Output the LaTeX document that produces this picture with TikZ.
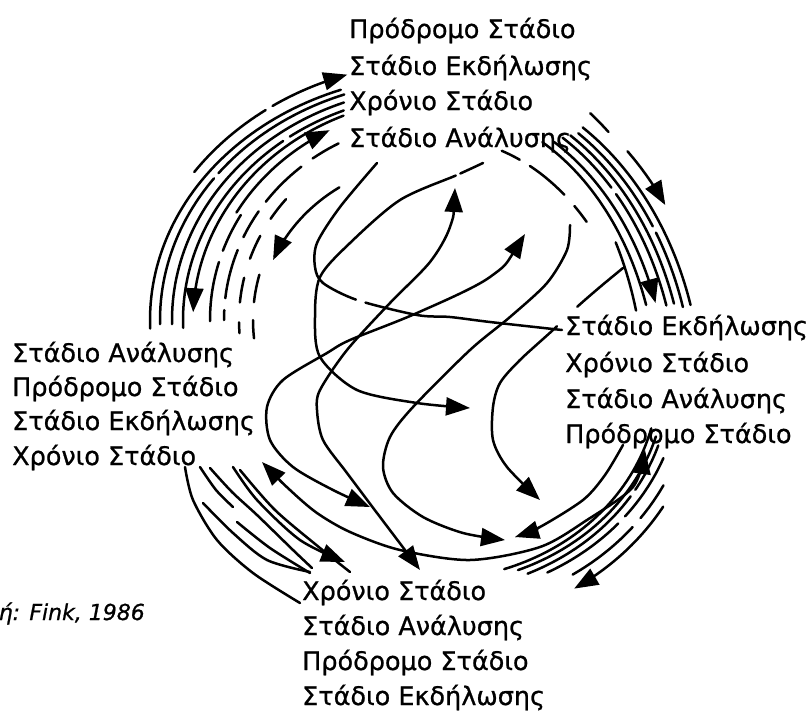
\documentclass[tikz,border=0pt]{standalone}
\usepackage{fontspec}
\setmainfont{DejaVu Sans}[FakeBold=0.8]
\usetikzlibrary{arrows.meta}
\tikzset{
  ln/.style={line width=2.5pt, line cap=round},
  tip/.style={ln,-{Triangle[length=24pt 0,width=18pt 0]}},
  tipb/.style={ln,{Triangle[length=24pt 0,width=18pt 0]}-{Triangle[length=24pt 0,width=18pt 0]}},
  lbl/.style={inner sep=0pt, anchor=base west, font=\fontsize{25.5}{30}\selectfont},
  srclbl/.style={inner sep=0pt, anchor=base east, font=\itshape\fontsize{22}{28}\selectfont}
}
\begin{document}
\begin{tikzpicture}[x=1pt,y=-1pt]
\useasboundingbox (0,0) rectangle (809,710);
\begin{scope}
\clip (0,0) rectangle (809,710);
% ---------- text blocks ----------
\node[lbl] (t1) at (349,38)  {Πρόδρομο Στάδιο};
\node[lbl] (t2) at (349,75)  {Στάδιο Εκδήλωσης};
\node[lbl] (t3) at (349,110) {Χρόνιο Στάδιο};
\node[lbl] (t4) at (349,147) {Στάδιο Ανάλυσης};
\node[lbl] (r1) at (565,335) {Στάδιο Εκδήλωσης};
\node[lbl] (r2) at (565,372) {Χρόνιο Στάδιο};
\node[lbl] (r3) at (565,408) {Στάδιο Ανάλυσης};
\node[lbl] (r4) at (565,443) {Πρόδρομο Στάδιο};
\node[lbl] (l1) at (12,362) {Στάδιο Ανάλυσης};
\node[lbl] (l2) at (12,396) {Πρόδρομο Στάδιο};
\node[lbl] (l3) at (12,430) {Στάδιο Εκδήλωσης};
\node[lbl] (l4) at (12,465) {Χρόνιο Στάδιο};
\node[lbl] (b1) at (302,600) {Χρόνιο Στάδιο};
\node[lbl] (b2) at (302,635) {Στάδιο Ανάλυσης};
\node[lbl] (b3) at (302,670) {Πρόδρομο Στάδιο};
\node[lbl] (b4) at (302,705) {Στάδιο Εκδήλωσης};
\node[srclbl] (src) at (145,620) {Πηγή: Fink, 1986};
% ---------- top-left bundle ----------
\draw[tip,dash pattern=on 95pt off 8pt on 400pt] plot[domain=145:108,samples=40] ({440+300*cos(\x)},{320-258*sin(\x)});
\draw[ln] plot[domain=110:182,samples=50] ({440+290*cos(\x)},{320-245*sin(\x)});
\draw[ln,dash pattern=on 150pt off 7pt on 400pt] plot[domain=110:181,samples=50] ({440+280*cos(\x)},{320-240*sin(\x)});
\draw[ln] plot[domain=111:181,samples=50] ({440+268*cos(\x)},{320-233*sin(\x)});
\draw[ln,dash pattern=on 60pt off 8pt on 300pt] plot[domain=112:182,samples=50] ({440+257*cos(\x)},{320-226*sin(\x)});
\draw[tip] plot[domain=113:178,samples=50] ({440+247*cos(\x)},{320-222*sin(\x)});
\draw[ln,dash pattern=on 40pt off 12pt on 60pt off 12pt] plot[domain=150:182,samples=30] ({440+230*cos(\x)},{320-210*sin(\x)});
\draw[ln,dash pattern=on 30pt off 14pt on 50pt off 12pt] plot[domain=118:180,samples=40] ({440+216*cos(\x)},{320-200*sin(\x)});
\draw[ln,dash pattern=on 25pt off 20pt] plot[domain=140:184,samples=40] ({440+201*cos(\x)},{320-188*sin(\x)});
\draw[ln,dash pattern=on 28pt off 18pt] plot[domain=165:186,samples=20] ({440+187*cos(\x)},{320-175*sin(\x)});
\draw[tip] plot[domain=124:158,samples=30] ({440+180*cos(\x)},{320-160*sin(\x)});
\draw[tip] plot[domain=150:118,samples=30] ({440+235*cos(\x)},{320-215*sin(\x)});
% ---------- top-right bundle ----------
\draw[ln] plot[domain=57:17,samples=40] ({440+262*cos(\x)},{400-325*sin(\x)});
\draw[ln,dash pattern=on 120pt off 7pt on 300pt] plot[domain=57:17,samples=40] ({440+254*cos(\x)},{400-318*sin(\x)});
\draw[ln] plot[domain=58:18,samples=40] ({440+246*cos(\x)},{400-312*sin(\x)});
\draw[ln,dash pattern=on 70pt off 8pt on 300pt] plot[domain=59:18,samples=40] ({440+238*cos(\x)},{400-306*sin(\x)});
\draw[tip] plot[domain=60:19,samples=40] ({440+228*cos(\x)},{400-298*sin(\x)});
\draw[ln] plot[domain=62:19,samples=40] ({440+218*cos(\x)},{400-292*sin(\x)});
\draw[ln] plot[domain=31:17,samples=20] ({440+205*cos(\x)},{400-306*sin(\x)});
\draw[ln,dash pattern=on 20pt off 12pt on 45pt off 15pt] plot[domain=72:40,samples=30] ({440+200*cos(\x)},{400-262*sin(\x)});
\draw[tip] plot[domain=47:35,samples=20] ({440+275*cos(\x)},{400-340*sin(\x)});
\draw[ln] plot[domain=55:50,samples=10] ({440+262*cos(\x)},{400-350*sin(\x)});
% ---------- bottom-right bundle ----------
\draw[ln] plot[domain=16:68,samples=40] ({430+235*cos(\x)},{380+205*sin(\x)});
\draw[ln,dash pattern=on 50pt off 8pt on 300pt] plot[domain=18:66,samples=40] ({430+240*cos(\x)},{380+212*sin(\x)});
\draw[ln] plot[domain=14:71,samples=40] ({430+228*cos(\x)},{380+200*sin(\x)});
\draw[ln,dash pattern=on 70pt off 10pt on 300pt] plot[domain=21:62,samples=40] ({430+250*cos(\x)},{380+218*sin(\x)});
\draw[ln,dash pattern=on 40pt off 12pt on 300pt] plot[domain=27:57,samples=30] ({430+262*cos(\x)},{380+232*sin(\x)});
\draw[tip] plot[domain=31:58,samples=30] ({430+272*cos(\x)},{380+246*sin(\x)});
% ---------- bottom-left bundle ----------
\draw[ln] plot[smooth] coordinates {(185,467) (193,500) (217,540) (253,573) (300,603)};
\draw[ln] plot[smooth] coordinates {(200,467) (216,490) (233,507)};
\draw[ln] plot[smooth] coordinates {(203,503) (233,533) (267,560) (310,572)};
\draw[ln] plot[smooth] coordinates {(210,468) (232,492) (257,515) (293,550) (312,568)};
\draw[tip] plot[smooth] coordinates {(233,467) (257,500) (300,540) (345,562)};
\draw[ln] plot[smooth] coordinates {(237,522) (270,548) (310,573)};
\draw[ln] plot[smooth] coordinates {(240,470) (275,510) (320,548) (350,572)};
% ---------- inner curves ----------
\draw[tipb] plot[smooth] coordinates {(455,188) (450,227) (430,262) (390,303) (347,350) (320,390) (317,410) (323,440) (347,473) (377,513) (405,550) (420,570)};
\draw[tipb] plot[smooth] coordinates {(525,234) (490,277) (417,313) (350,340) (327,353) (283,380) (267,407) (270,440) (293,467) (333,490) (370,507)};
\draw[ln,dash pattern=on 180pt off 10pt on 400pt] plot[smooth] coordinates {(377,163) (340,207) (317,243) (315,267) (323,283) (357,300) (417,315) (450,317) (490,322) (562,330)};
\draw[tip,dash pattern=on 25pt off 5pt on 600pt] plot[smooth] coordinates {(483,163) (457,175) (400,200) (350,243) (320,277) (315,317) (320,357) (357,390) (417,403) (470,408)};
\draw[tip] plot[smooth] coordinates {(570,225) (567,250) (547,283) (510,317) (470,350) (413,407) (390,437) (383,467) (393,493) (423,517) (463,533) (505,540)};
\draw[tip,dash pattern=on 60pt off 28pt on 600pt] plot[smooth] coordinates {(623,268) (600,287) (577,307) (553,330) (520,360) (500,383) (493,407) (493,440) (507,467) (540,500)};
\draw[tip] plot[smooth] coordinates {(623,445) (605,475) (583,500) (540,527) (515,537)};
\draw[tipb] plot[smooth] coordinates {(262,462) (290,490) (317,513) (350,532) (400,550) (470,560) (540,547) (587,520) (633,487) (645,450)};
\end{scope}
\end{tikzpicture}
\end{document}
